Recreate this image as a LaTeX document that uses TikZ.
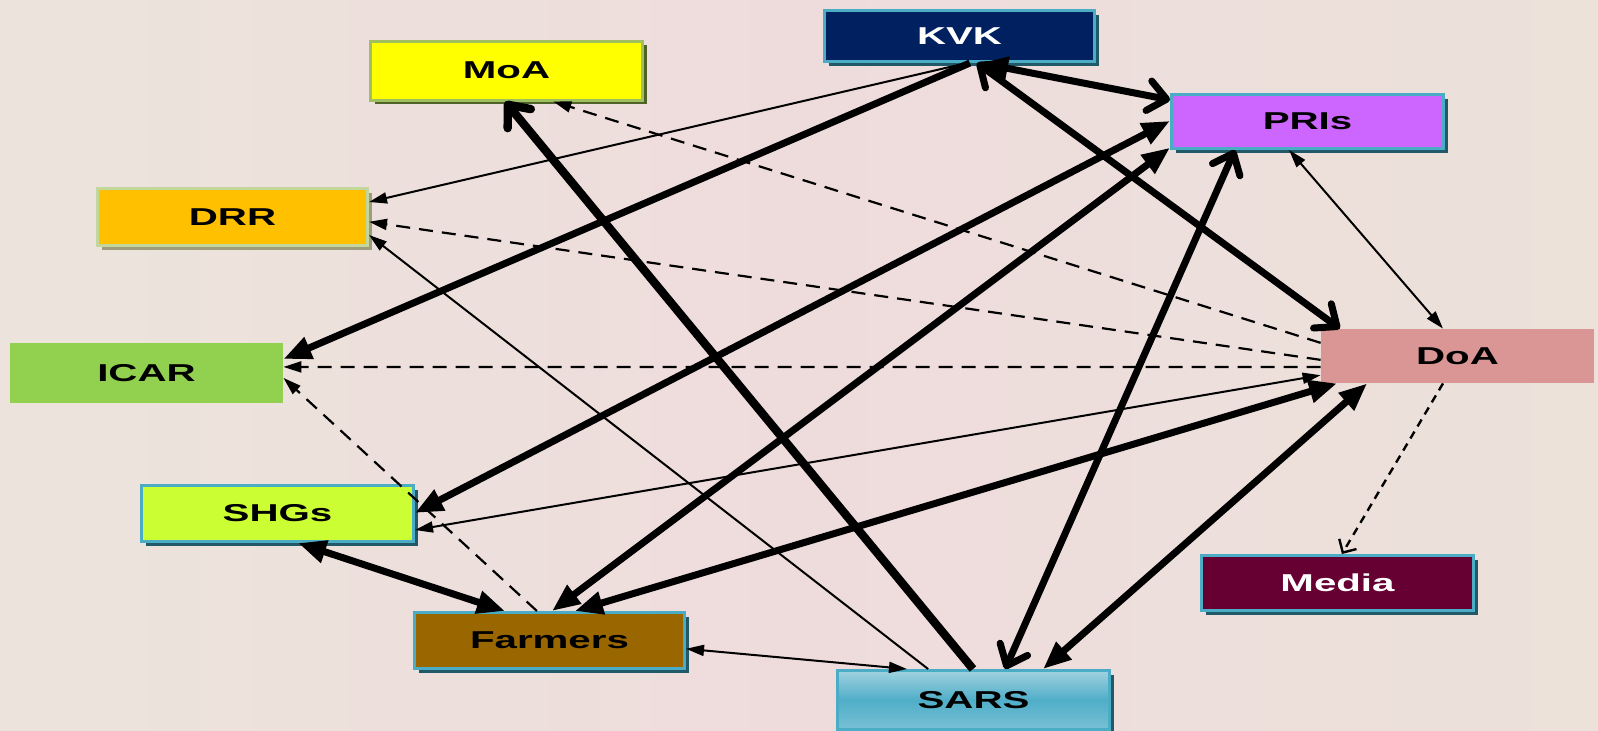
\documentclass[tikz,border=0pt]{standalone}
\usepackage{fontspec}
\newfontfamily\boxfont{Liberation Sans}[FakeStretch=1.65]
\usetikzlibrary{arrows.meta,calc,shadows}
\definecolor{bgL}{RGB}{236,228,220}
\definecolor{bgM}{RGB}{238,220,220}
\definecolor{bgR}{RGB}{236,226,218}
\definecolor{bordblue}{RGB}{75,172,198}
\definecolor{shadteal}{RGB}{33,89,104}
\definecolor{kvkc}{RGB}{0,32,96}
\definecolor{pric}{RGB}{204,102,255}
\definecolor{moac}{RGB}{255,255,0}
\definecolor{moab}{RGB}{160,192,96}
\definecolor{moas}{RGB}{79,98,40}
\definecolor{drrc}{RGB}{255,192,0}
\definecolor{drrb}{RGB}{195,214,155}
\definecolor{drrs}{RGB}{158,156,124}
\definecolor{icarc}{RGB}{146,208,80}
\definecolor{doac}{RGB}{218,150,148}
\definecolor{shgc}{RGB}{204,255,51}
\definecolor{farc}{RGB}{153,102,0}
\definecolor{medc}{RGB}{102,0,51}
\definecolor{sarsL}{RGB}{160,210,224}
\definecolor{sarsM}{RGB}{80,174,200}
\definecolor{sarsB}{RGB}{120,192,212}
\begin{document}
\begin{tikzpicture}[x=0.5pt,y=-0.5pt,
  box/.style={rectangle, inner sep=0pt,
    font=\boxfont\bfseries\fontsize{12.2}{14}\selectfont},
  blueb/.style={box, draw=bordblue, line width=1.5pt,
    drop shadow={shadow xshift=2pt, shadow yshift=-2pt, fill=shadteal, opacity=1}},
  thk/.style={line width=3.5pt},
  thkk/.style={line width=4.2pt},
  thn/.style={line width=1pt},
  dsh/.style={line width=1.1pt, dash pattern=on 7pt off 4.5pt},
  mdsh/.style={line width=1.2pt, dash pattern=on 4pt off 3pt},
  TF/.tip={Triangle[length=14pt,width=11pt]},
  tf/.tip={Triangle[length=9pt,width=5.5pt]},
  BO/.tip={Straight Barb[length=9pt,width=15pt,round]},
  bo/.tip={Straight Barb[length=5pt,width=10pt]}
]
\useasboundingbox (0,0) rectangle (1598,730);
\shade[left color=bgL, right color=bgR, middle color=bgM] (0,0) rectangle (1598,730);

% nodes
\node[blueb, fill=kvkc, text=white, minimum width=135pt, minimum height=25.5pt] (kvk) at (959.5,36) {KVK};
\node[box, fill=moac, draw=moab, line width=1.5pt, minimum width=136pt, minimum height=29.5pt,
  drop shadow={shadow xshift=2pt, shadow yshift=-2pt, fill=moas, opacity=1}] (moa) at (506.5,70.5) {MoA};
\node[blueb, fill=pric, minimum width=136pt, minimum height=27pt] (pri) at (1307.5,121.5) {PRIs};
\node[box, fill=drrc, draw=drrb, line width=1.5pt, minimum width=135pt, minimum height=28.5pt,
  drop shadow={shadow xshift=2pt, shadow yshift=-2pt, fill=drrs, opacity=1}] (drr) at (232.5,217) {DRR};
\node[box, fill=icarc, minimum width=136.5pt, minimum height=30pt] (icar) at (146.5,373) {ICAR};
\node[box, fill=doac, minimum width=136.5pt, minimum height=27pt] (doa) at (1457.5,356) {DoA};
\node[blueb, fill=shgc, minimum width=136pt, minimum height=28pt] (shg) at (277.5,513.5) {SHGs};
\node[blueb, fill=farc, minimum width=135pt, minimum height=28pt] (far) at (549.5,640.5) {Farmers};
\node[box, draw=bordblue, line width=1.5pt, top color=sarsL, bottom color=sarsB, middle color=sarsM,
  minimum width=136pt, minimum height=29.5pt,
  drop shadow={shadow xshift=2pt, shadow yshift=-2pt, fill=shadteal, opacity=1}] (sars) at (973.5,700) {SARS};
\node[blueb, fill=medc, text=white, minimum width=136pt, minimum height=27.5pt] (med) at (1337.5,583) {Media};

% connectors
\draw[thk, TF-BO] ($(kvk.south west)!.575!(kvk.south east)$) -- ($(pri.north west)!.12!(pri.south west)$);
\draw[thn, -tf] ($(kvk.south west)!.527!(kvk.south east)$) -- ($(drr.north east)!.25!(drr.south east)$);
\draw[thk, -TF] ($(kvk.south west)!.538!(kvk.south east)$) -- ($(icar.north east)!.27!(icar.south east)$);
\draw[thk, BO-BO] ($(kvk.south west)!.564!(kvk.south east)$) -- ($(doa.north west)!.07!(doa.north east)$);
\draw[dsh, -tf] ($(doa.north west)!.26!(doa.south west)$) -- ($(moa.south west)!.67!(moa.south east)$);
\draw[dsh, -tf] ($(doa.north west)!.57!(doa.south west)$) -- ($(drr.north east)!.58!(drr.south east)$);
\draw[dsh, -tf] ($(doa.north west)!.70!(doa.south west)$) -- ($(icar.north east)!.40!(icar.south east)$);
\draw[thn, tf-tf] ($(doa.north west)!.85!(doa.south west)$) -- ($(shg.north east)!.78!(shg.south east)$);
\draw[thk, TF-TF] ($(far.north west)!.593!(far.north east)$) -- ($(doa.south west)!.06!(doa.south east)$);
\draw[thk, TF-TF] ($(sars.north west)!.753!(sars.north east)$) -- ($(doa.south west)!.17!(doa.south east)$);
\draw[mdsh, -bo] ($(doa.south west)!.447!(doa.south east)$) -- ($(med.north west)!.516!(med.north east)$);
\draw[thn, tf-tf] ($(pri.south west)!.433!(pri.south east)$) -- ($(doa.north west)!.447!(doa.north east)$);
\draw[thk, BO-BO] ($(pri.south west)!.236!(pri.south east)$) -- ($(sars.north west)!.615!(sars.north east)$);
\draw[thk, TF-TF] ($(pri.north west)!.49!(pri.south west)$) -- ($(shg.north east)!.49!(shg.south east)$);
\draw[thk, TF-TF] ($(pri.north west)!.96!(pri.south west)$) -- ($(far.north west)!.509!(far.north east)$);
\draw[thkk, -BO] ($(sars.north west)!.498!(sars.north east)$) -- ($(moa.south west)!.495!(moa.south east)$);
\draw[thn, -tf] ($(sars.north west)!.335!(sars.north east)$) -- ($(drr.north east)!.8!(drr.south east)$);
\draw[dsh, -tf] ($(far.north west)!.454!(far.north east)$) -- ($(icar.north east)!.58!(icar.south east)$);
\draw[thk, TF-TF] ($(shg.south west)!.575!(shg.south east)$) -- ($(far.north west)!.337!(far.north east)$);
\draw[thn, tf-tf] ($(far.north east)!.64!(far.south east)$) -- ($(sars.north west)!.258!(sars.north east)$);
\end{tikzpicture}
\end{document}
